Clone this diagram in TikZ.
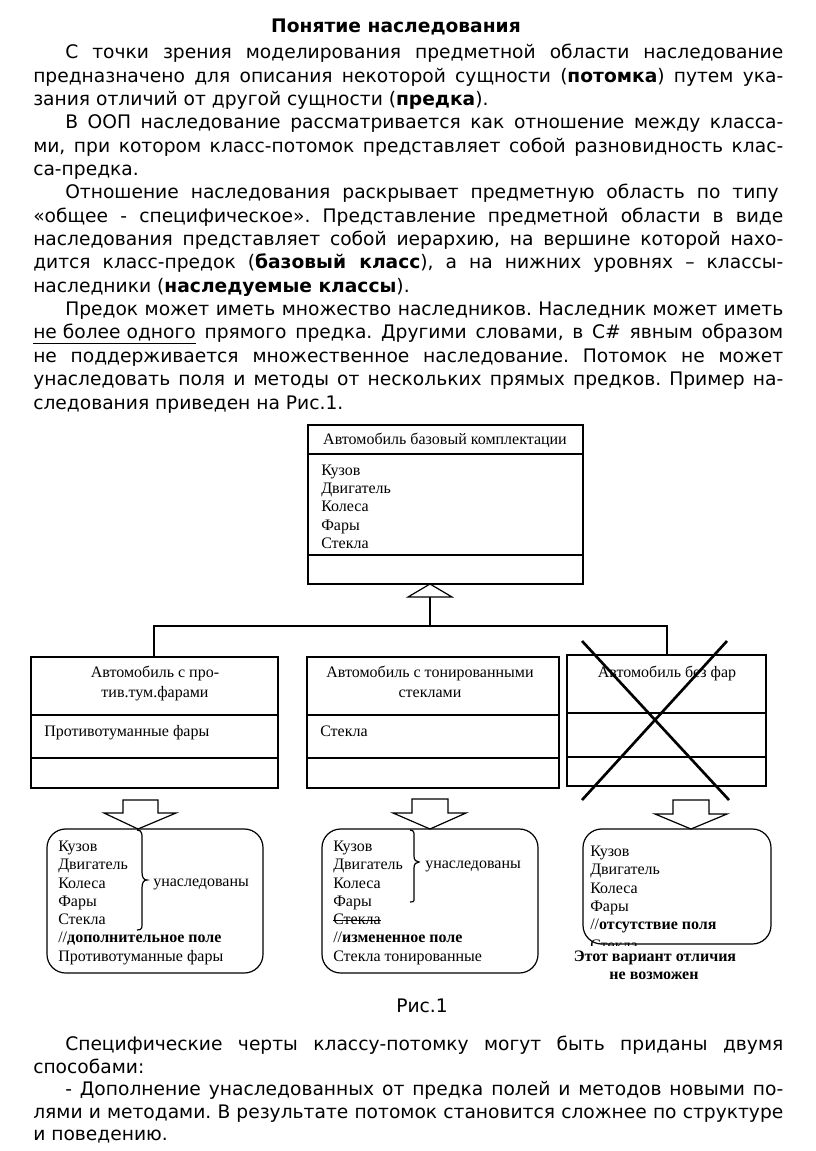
\documentclass[tikz,border=0pt]{standalone}
\usepackage{fontspec}
\setmainfont{DejaVu Sans}
\newfontfamily\tnr{Liberation Serif}
\frenchspacing
\newcommand{\bodysize}{\fontsize{14pt}{17pt}\selectfont}
\newcommand{\dgsize}{\tnr\fontsize{12pt}{13.8pt}\selectfont}
\newcommand{\fullw}{562.5pt}
\newcommand{\indw}{538.5pt}
\tikzset{
  txt/.style={anchor=base west, inner sep=0pt, font=\bodysize},
  dg/.style={anchor=base west, inner sep=0pt, font=\dgsize},
  dgc/.style={anchor=base, inner sep=0pt, font=\dgsize},
  box/.style={draw, line width=0.9pt},
  rbox/.style={draw, line width=0.9pt, rounded corners=14pt},
  conn/.style={line width=0.9pt},
  cross/.style={line width=2pt},
  barrow/.style={draw, line width=0.9pt, fill=white}
}
\begin{document}
\begin{tikzpicture}[x=0.75pt,y=-0.75pt]
\useasboundingbox[fill=white] (0,0) rectangle (816,1151);
% ---------- title and body text ----------
\node[anchor=base, inner sep=0pt, font=\bodysize\bfseries] (title) at (396,33) {Понятие наследования};
\node[txt] (l1) at (65,59) {\makebox[\indw][s]{С точки зрения моделирования предметной области наследование}};
\node[txt] (l2) at (33,82.3) {\makebox[\fullw][s]{предназначено для описания некоторой сущности (\textbf{потомка}) путем ука-}};
\node[txt] (l3) at (33,105.7) {зания отличий от другой сущности (\textbf{предка}).};
\node[txt] (l4) at (65,129) {\makebox[\indw][s]{В ООП наследование рассматривается как отношение между класса-}};
\node[txt] (l5) at (33,152.3) {\makebox[\fullw][s]{ми, при котором класс-потомок представляет собой разновидность клас-}};
\node[txt] (l6) at (33,175.7) {са-предка.};
\node[txt] (l7) at (65,199) {\makebox[535pt][s]{Отношение наследования раскрывает предметную область по типу}};
\node[txt] (l8) at (33,222.3) {\makebox[\fullw][s]{«общее - специфическое». Представление предметной области в виде}};
\node[txt] (l9) at (33,245.7) {\makebox[\fullw][s]{наследования представляет собой иерархию, на вершине которой нахо-}};
\node[txt] (l10) at (33,269) {\makebox[\fullw][s]{дится класс-предок (\textbf{базовый класс}), а на нижних уровнях – классы-}};
\node[txt] (l11) at (33,292.3) {наследники (\textbf{наследуемые классы}).};
\node[txt] (l12) at (65,315.7) {\makebox[\indw][s]{Предок может иметь множество наследников. Наследник может иметь}};
\node[txt] (l13) at (33,339) {\makebox[\fullw][s]{\underline{не более одного} прямого предка. Другими словами, в C\# явным образом}};
\node[txt] (l14) at (33,362.3) {\makebox[\fullw][s]{не поддерживается множественное наследование. Потомок не может}};
\node[txt] (l15) at (33,385.7) {\makebox[\fullw][s]{унаследовать поля и методы от нескольких прямых предков. Пример на-}};
\node[txt] (l16) at (33,409) {следования приведен на Рис.1.};
% ---------- base class ----------
\draw[box] (308,425) rectangle (583,584);
\draw[box] (308,454) -- (583,454);
\draw[box] (308,555) -- (583,555);
\node[dgc] (bt) at (445,444.5) {Автомобиль базовый комплектации};
\node[dg] (bf1) at (321,475) {Кузов};
\node[dg] (bf2) at (321,493.4) {Двигатель};
\node[dg] (bf3) at (321,511.8) {Колеса};
\node[dg] (bf4) at (321,530.2) {Фары};
\node[dg] (bf5) at (321,548.6) {Стекла};
% inheritance triangle and connectors
\coordinate (apex) at (430,584);
\coordinate (tb) at (430,597);
\draw[conn] (apex) -- (408,597) -- (452,597) -- cycle;
\coordinate (hl) at (154,626);
\coordinate (hm) at (430,626);
\coordinate (hr) at (667,626);
\draw[conn] (tb) -- (hm);
\draw[conn] (154,657) -- (hl) -- (hr) -- (667,655);
% ---------- derived class 1 ----------
\draw[box] (31,657) rectangle (278,788);
\draw[box] (31,715) -- (278,715);
\draw[box] (31,758) -- (278,758);
\node[dgc] (c1t1) at (155,677) {Автомобиль с про-};
\node[dgc] (c1t2) at (155,697) {тив.тум.фарами};
\node[dg] (c1f) at (44,736) {Противотуманные фары};
% ---------- derived class 2 ----------
\draw[box] (307,657) rectangle (559,788);
\draw[box] (307,715) -- (559,715);
\draw[box] (307,758) -- (559,758);
\node[dgc] (c2t1) at (430,677) {Автомобиль с тонированными};
\node[dgc] (c2t2) at (430,697) {стеклами};
\node[dg] (c2f) at (320,736) {Стекла};
% ---------- derived class 3 (crossed) ----------
\draw[box] (567,655) rectangle (766,786);
\draw[box] (567,713) -- (766,713);
\draw[box] (567,757) -- (766,757);
\node[dgc] (c3t) at (667,677) {Автомобиль без фар};
\draw[cross] (582,641) -- (729,800);
\draw[cross] (727,641) -- (582,800);
% ---------- block arrows ----------
\draw[barrow] (123,800) -- (158,800) -- (158,813) -- (176,813) -- (138,829) -- (104,813) -- (123,813) -- cycle;
\draw[barrow] (412,799) -- (448,799) -- (448,813) -- (466,813) -- (430,829) -- (393,813) -- (412,813) -- cycle;
\draw[barrow] (673,800) -- (709,800) -- (709,814) -- (727,814) -- (691,829) -- (655,814) -- (673,814) -- cycle;
% ---------- result 1 ----------
\draw[rbox] (47,829) rectangle (263,973);
\node[dg] (r1a) at (58,851) {Кузов};
\node[dg] (r1b) at (58,869.5) {Двигатель};
\node[dg] (r1c) at (58,888) {Колеса};
\node[dg] (r1d) at (58,906) {Фары};
\node[dg] (r1e) at (58,924.5) {Стекла};
\node[dg] (r1f) at (58,942.5) {//\textbf{дополнительное поле}};
\node[dg] (r1g) at (58,961) {Противотуманные фары};
\draw[conn] (137,830) .. controls (143,830) and (142,835) .. (142,845) -- (142,872) .. controls (142,878) and (144,880) .. (147,880) .. controls (144,880) and (142,882) .. (142,888) -- (142,918) .. controls (142,928) and (143,930) .. (137,930);
\node[dg] (r1u) at (153,886) {унаследованы};
% ---------- result 2 ----------
\draw[rbox] (322,829) rectangle (538,973);
\node[dg] (r2a) at (333,851) {Кузов};
\node[dg] (r2b) at (333,869.5) {Двигатель};
\node[dg] (r2c) at (333,888) {Колеса};
\node[dg] (r2d) at (333,906) {Фары};
\node[dg] (r2e) at (333,924.5) {Стекла};
\draw[line width=0.6pt] ([yshift=3pt]r2e.base west) -- ([yshift=3pt]r2e.base east);
\node[dg] (r2f) at (333,942.5) {//\textbf{измененное поле}};
\node[dg] (r2g) at (333,961) {Стекла тонированные};
\draw[conn] (410,830) .. controls (415,830) and (414,834) .. (414,840) -- (414,856) .. controls (414,860) and (416,862) .. (419,862) .. controls (416,862) and (414,864) .. (414,868) -- (414,895) .. controls (414,901) and (415,902) .. (410,902);
\node[dg] (r2u) at (425,868) {унаследованы};
% ---------- result 3 ----------
\draw[rbox] (583,829) rectangle (771,944);
\node[dg] (r3a) at (590,856) {Кузов};
\node[dg] (r3b) at (590,874.5) {Двигатель};
\node[dg] (r3c) at (590,893) {Колеса};
\node[dg] (r3d) at (590,911) {Фары};
\node[dg] (r3e) at (590,929.5) {//\textbf{отсутствие поля}};
\node[dg] (r3f) at (590,950) {Стекла};
\node[anchor=base, inner xsep=1pt, inner ysep=3.5pt, fill=white, font=\dgsize\bfseries] (warn1) at (655,961) {Этот вариант отличия};
\node[anchor=base, inner sep=0pt, font=\dgsize\bfseries] (warn2) at (654,979) {не возможен};
% ---------- caption and text below ----------
\node[anchor=base, inner sep=0pt, font=\bodysize] (cap) at (422,1012) {Рис.1};
\node[txt] (m1) at (65,1050) {\makebox[\indw][s]{Специфические черты классу-потомку могут быть приданы двумя}};
\node[txt] (m2) at (33,1073) {способами:};
\node[txt] (m3) at (65,1095.5) {\makebox[\indw][s]{- Дополнение унаследованных от предка полей и методов новыми по-}};
\node[txt] (m4) at (33,1118) {\makebox[\fullw][s]{лями и методами. В результате потомок становится сложнее по структуре}};
\node[txt] (m5) at (33,1140.5) {и поведению.};
\end{tikzpicture}
\end{document}
